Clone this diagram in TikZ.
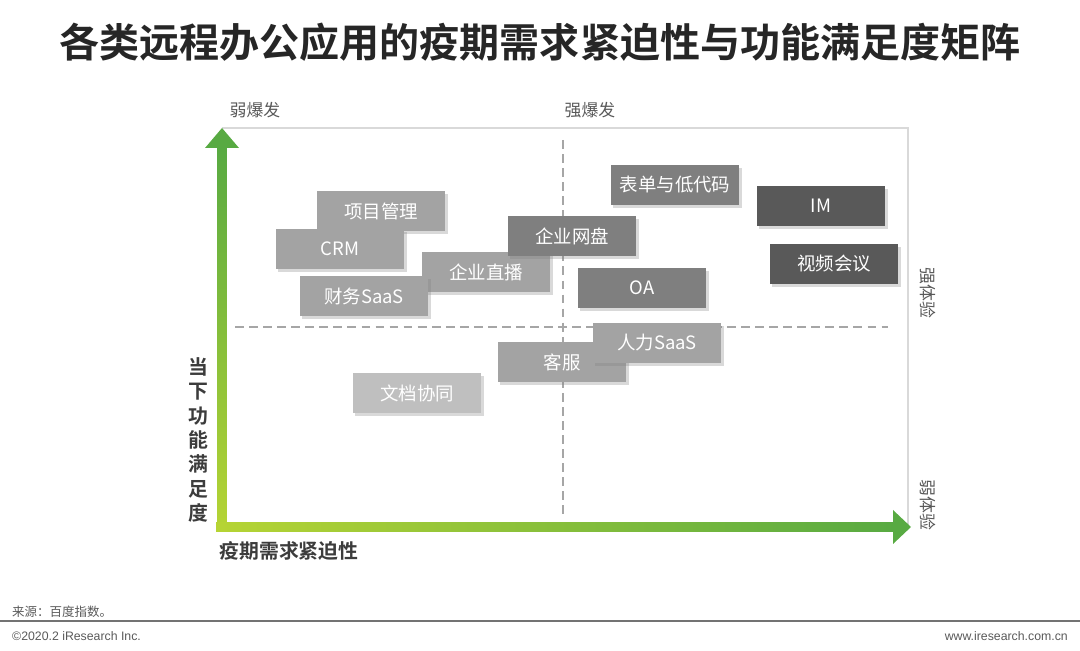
\documentclass[tikz,border=0pt]{standalone}
\usepackage{fontspec}
\setmainfont{Noto Sans CJK SC}[BoldFont={Noto Sans CJK SC Bold}]
\newfontfamily\footfont{Liberation Sans}
\usetikzlibrary{positioning, shadows, calc}
\definecolor{titlegray}{RGB}{38,38,38}
\definecolor{labelgray}{RGB}{89,89,89}
\definecolor{axislight}{RGB}{182,212,52}
\definecolor{axisdark}{RGB}{88,170,66}
\definecolor{appA}{RGB}{163,163,163}
\definecolor{appB}{RGB}{127,127,127}
\definecolor{appC}{RGB}{89,89,89}
\definecolor{appD}{RGB}{191,191,191}

\begin{document}
\begin{tikzpicture}[
    x=0.02cm, y=-0.02cm,
    app/.style={rectangle, fill=appA, minimum width=2.58cm, minimum height=0.8cm, inner sep=0pt, text=white, font=\fontsize{10.5}{12}\selectfont, drop shadow={shadow xshift=1.2pt, shadow yshift=-1.5pt, opacity=0.3}},
    zone/.style={font=\fontsize{9.6}{11}\selectfont, text=labelgray},
    axislabel/.style={font=\bfseries\fontsize{11.3}{13.9}\selectfont, text=titlegray!90},
    gridline/.style={draw=black!35, dashed, dash pattern=on 5pt off 3pt, line width=0.6pt},
    foot/.style={font=\footfont\fontsize{7}{8}\selectfont, text=labelgray}
]
\useasboundingbox (0,0) rectangle (1080,651);
% title
\node[font=\bfseries\fontsize{22.8}{26}\selectfont, text=titlegray] (title) at (540,42) {各类远程办公应用的疫期需求紧迫性与功能满足度矩阵};

% frame and axes
\coordinate (origin) at (222,527);
\coordinate (ytop) at (222,128);
\coordinate (xend) at (911,527);
\coordinate (corner) at (908,128);
\draw[black!15, line width=1pt] (ytop) -- (corner) -- (corner |- origin);
\coordinate (vtop) at (563,140);
\coordinate (vbot) at (563,516);
\coordinate (hleft) at (235,327);
\coordinate (hright) at (888,327);
\draw[gridline] (vtop) -- (vbot);
\draw[gridline] (hleft) -- (hright);

\shade[bottom color=axislight, top color=axisdark] ($(origin)+(-4.5,4.5)$) rectangle ($(ytop)+(4.5,19)$);
\fill[axisdark] ($(ytop)+(-17,20)$) -- (ytop) -- ($(ytop)+(17,20)$) -- cycle;
\shade[left color=axislight, right color=axisdark] ($(origin)+(-6,-4.5)$) rectangle ($(xend)+(-17,4.5)$);
\fill[axisdark] ($(xend)+(-18,-17)$) -- (xend) -- ($(xend)+(-18,17)$) -- cycle;

% zone labels
\node[zone] (weakburst) at (255,110) {弱爆发};
\node[zone] (strongburst) at (590,110) {强爆发};
\node[zone, rotate=-90] (strongexp) at (928,293) {强体验};
\node[zone, rotate=-90] (weakexp) at (928,505) {弱体验};

% axis labels
\node[axislabel, align=center] (ylabel) at (198,440) {当\\下\\功\\能\\满\\足\\度};
\node[axislabel] (xlabel) at (289,551) {疫期需求紧迫性};

% applications
\node[app] (proj) at (381,211) {项目管理};
\node[app] (crm) at (340,249) {CRM};
\node[app] (live) at (486,272) {企业直播};
\node[app] (fin) at (364,296) {财务SaaS};
\node[app, fill=appB] (disk) at (572,236) {企业网盘};
\node[app, fill=appB] (form) at (675,185) {表单与低代码};
\node[app, fill=appC] (im) at (821,206) {IM};
\node[app, fill=appC] (video) at (834,264) {视频会议};
\node[app, fill=appB] (oa) at (642,288) {OA};
\node[app] (service) at (562,362) {客服};
\node[app] (hr) at (657,343) {人力SaaS};
\node[app, fill=appD] (docs) at (417,393) {文档协同};

% footer
\node[font=\fontsize{7.1}{8}\selectfont, text=labelgray, anchor=west] (source) at (6,612) {来源：百度指数。};
\coordinate (ruleleft) at (0,621);
\coordinate (ruleright) at (1080,621);
\draw[black!55, line width=1.2pt] (ruleleft) -- (ruleright);
\node[foot, anchor=west] (copy) at (6,636) {©2020.2 iResearch Inc.};
\node[foot, anchor=east] (site) at (1074,636) {www.iresearch.com.cn};
\end{tikzpicture}
\end{document}
